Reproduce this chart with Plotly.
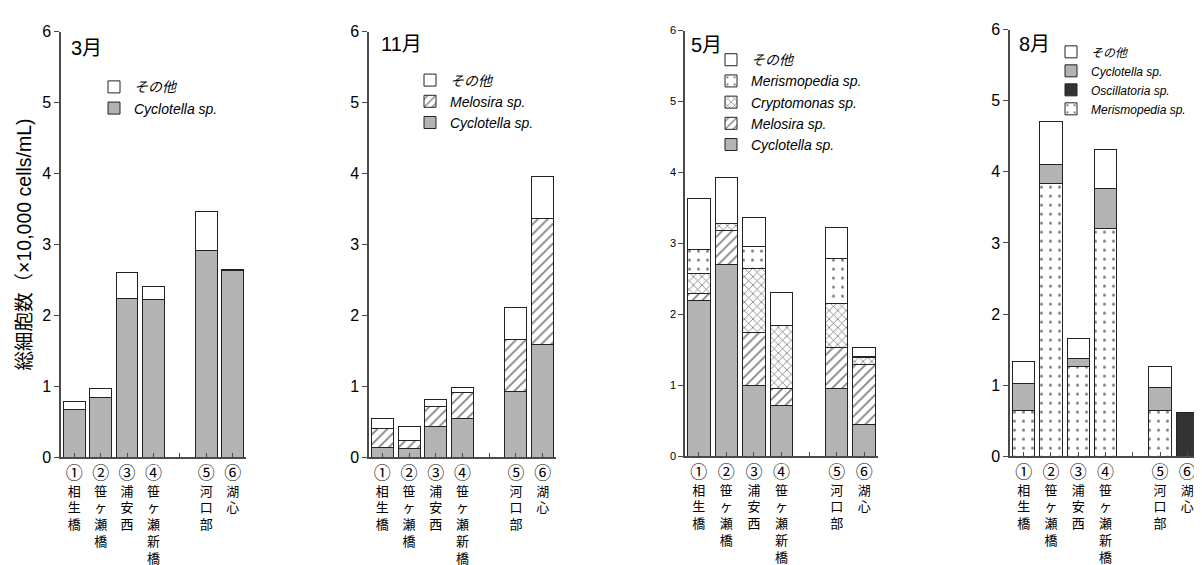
import plotly.graph_objects as go

# ---------------- data ----------------
sites = ["①相生橋", "②笹ヶ瀬橋", "③浦安西", "④笹ヶ瀬新橋", "⑤河口部", "⑥湖心"]
gap = " "
months = ["3月", "11月", "5月", "8月"]
y_title = "総細胞数（×10,000 cells/mL)"

# 3月
mar_cyclotella = [0.67, 0.84, 2.24, 2.23, 2.91, 2.63]
mar_other = [0.12, 0.13, 0.37, 0.18, 0.55, 0.02]

# 11月
nov_cyclotella = [0.14, 0.13, 0.44, 0.54, 0.93, 1.59]
nov_melosira = [0.26, 0.11, 0.28, 0.37, 0.73, 1.77]
nov_other = [0.14, 0.20, 0.09, 0.08, 0.45, 0.59]

# 5月
may_cyclotella = [2.19, 2.70, 1.00, 0.72, 0.95, 0.45]
may_melosira = [0.11, 0.48, 0.74, 0.24, 0.58, 0.85]
may_cryptomonas = [0.27, 0.10, 0.90, 0.88, 0.62, 0.09]
may_merismopedia = [0.34, None, 0.32, 0.01, 0.64, 0.01]
may_other = [0.72, 0.65, 0.40, 0.46, 0.43, 0.13]

# 8月
aug_merismopedia = [0.64, 3.83, 1.27, 3.20, 0.64, None]
aug_oscillatoria = [None, None, None, None, None, 0.62]
aug_cyclotella = [0.39, 0.28, 0.10, 0.56, 0.33, None]
aug_other = [0.30, 0.60, 0.29, 0.55, 0.29, None]

# ---------------- styles ----------------
FONT = "Liberation Sans, Noto Sans CJK JP, sans-serif"
EDGE = dict(color="#222222", width=1)
AXIS = "#4a4a4a"
W, H = 1202, 565

styles = {
    "その他": dict(color="white"),
    "Cyclotella sp.": dict(color="#b3b3b3"),
    "Melosira sp.": dict(color="white", pattern=dict(shape="/", size=7, solidity=0.24,
                                                     fgcolor="black", bgcolor="white")),
    "Cryptomonas sp.": dict(color="white", pattern=dict(shape="x", size=6, solidity=0.26,
                                                        fgcolor="black", bgcolor="white")),
    "Merismopedia sp.": dict(color="white", pattern=dict(shape=".", size=9, solidity=0.09,
                                                         fgcolor="black", bgcolor="white")),
    "Oscillatoria sp.": dict(color="#333333"),
}

panels = [
    ("3月", [("Cyclotella sp.", mar_cyclotella), ("その他", mar_other)]),
    ("11月", [("Cyclotella sp.", nov_cyclotella), ("Melosira sp.", nov_melosira),
              ("その他", nov_other)]),
    ("5月", [("Cyclotella sp.", may_cyclotella), ("Melosira sp.", may_melosira),
             ("Cryptomonas sp.", may_cryptomonas), ("Merismopedia sp.", may_merismopedia),
             ("その他", may_other)]),
    ("8月", [("Merismopedia sp.", aug_merismopedia), ("Oscillatoria sp.", aug_oscillatoria),
             ("Cyclotella sp.", aug_cyclotella), ("その他", aug_other)]),
]

# layout geometry (pixels)
x_px = [(53, 238), (361, 548), (677, 870), (1002, 1193)]
y_px = [(455, 16), (455, 16), (454, 15), (454, 14)]
title_pos = [(61, 33), (371, 29), (681, 30), (1009, 29)]
legend_pos = [(86, 57), (402, 50), (703, 29), (1043, 22)]
legend_font = [14, 14, 14, 12]
ytick_font = [16, 16, 11, 16]


def vertical_label(name):
    chars = list(name)
    head = f"<span style='font-size:17px'>{chars[0]}</span>"
    return "<br>".join([head] + chars[1:])


cats = sites[:4] + [gap] + sites[4:]
ticktext = [vertical_label(c) if c != gap else "" for c in cats]

fig = go.Figure()
layout = dict(
    width=W, height=H, margin=dict(l=0, r=0, t=0, b=0),
    paper_bgcolor="white", plot_bgcolor="white",
    barmode="stack", bargap=0.18,
    font=dict(family=FONT, color="black"),
    annotations=[],
)

for i, (month, series) in enumerate(panels):
    n = i + 1
    xa = "x" if n == 1 else f"x{n}"
    ya = "y" if n == 1 else f"y{n}"
    lg = "legend" if n == 1 else f"legend{n}"
    for name, vals in series:
        st = styles[name]
        marker = dict(color=st["color"], line=EDGE)
        if "pattern" in st:
            marker["pattern"] = st["pattern"]
        fig.add_trace(go.Bar(
            x=sites, y=vals, name=name, marker=marker,
            xaxis=xa, yaxis=ya, legend=lg, showlegend=True,
            hoverinfo="skip",
        ))
    x0, x1 = x_px[i]
    yb, yt = y_px[i]
    layout[f"xaxis{'' if n == 1 else n}"] = dict(
        domain=[x0 / W, x1 / W], anchor=ya,
        type="category", categoryorder="array", categoryarray=cats,
        tickmode="array", tickvals=cats, ticktext=ticktext,
        range=[-0.5, 6.5], showline=True, linecolor=AXIS, linewidth=1.5,
        ticks="inside", ticklen=5, tickcolor=AXIS, tickwidth=1,
        showgrid=False, zeroline=False, ticklabelstandoff=4,
        tickfont=dict(size=13, family=FONT),
        fixedrange=True,
    )
    layout[f"yaxis{'' if n == 1 else n}"] = dict(
        domain=[1 - yb / H, 1 - yt / H], anchor=xa,
        range=[0, 6], dtick=1, tick0=0,
        showline=True, linecolor=AXIS, linewidth=1.5,
        ticks="outside", ticklen=5, tickcolor=AXIS, tickwidth=1,
        showgrid=False, zeroline=False,
        tickfont=dict(size=ytick_font[i], family=FONT),
        fixedrange=True,
    )
    if n == 1:
        layout["yaxis"]["title"] = dict(text=y_title, font=dict(size=19.5, family=FONT),
                                        standoff=5)
    lx, ly = legend_pos[i]
    layout[lg] = dict(
        x=lx / W, y=1 - ly / H, xanchor="left", yanchor="top",
        traceorder="reversed", bgcolor="rgba(0,0,0,0)", borderwidth=0,
        font=dict(size=legend_font[i], family=FONT, style="italic"),
        itemclick=False, itemdoubleclick=False,
    )
    tx, ty = title_pos[i]
    layout["annotations"].append(dict(
        text=month, x=tx / W, y=1 - ty / H, xref="paper", yref="paper",
        xanchor="left", yanchor="middle", showarrow=False,
        font=dict(size=20, family=FONT),
    ))

fig.update_layout(**layout)
fig.write_html("out.html")
